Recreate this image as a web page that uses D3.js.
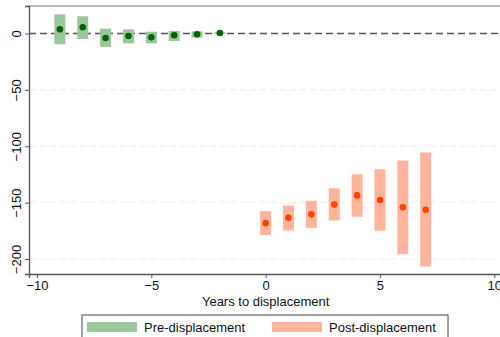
<!DOCTYPE html>
<html>
<head>
<meta charset="utf-8">
<script src="https://cdn.jsdelivr.net/npm/d3@7"></script>
<style>
  body { margin: 0; background: white; }
  text { font-family: "Liberation Sans", Arial, sans-serif; }
</style>
</head>
<body>
<script>
const width = 500;
const height = 337;

// event-study estimates
const pre_years = [-9, -8, -7, -6, -5, -4, -3, -2];
const pre_coef  = [3.7, 5.5, -4.0, -2.2, -3.4, -1.6, -0.7, 0.4];
const pre_lo    = [-9.6, -4.9, -12.0, -8.7, -8.7, -6.7, -3.7, -0.3];
const pre_hi    = [17.0, 15.3, 4.3, 3.7, 1.6, 2.2, 1.9, 1.1];

const post_years = [0, 1, 2, 3, 4, 5, 6, 7];
const post_coef  = [-168.2, -163.4, -160.4, -151.6, -143.6, -147.7, -154.2, -156.3];
const post_lo    = [-178.8, -174.7, -172.6, -165.8, -162.5, -174.9, -195.7, -206.7];
const post_hi    = [-157.5, -152.7, -148.3, -137.3, -124.9, -120.4, -112.7, -105.6];

const x_ticks = [-10, -5, 0, 5, 10];
const y_ticks = [0, -50, -100, -150, -200];
const legend_items = [
    {label: 'Pre-displacement', color: '#9cc79d'},
    {label: 'Post-displacement', color: '#ffb59b'}
];

const margin = {left: 29, top: 6, right: -8, bottom: 63};
const x = d3.scaleLinear().domain([-10.35, 10.6]).range([margin.left, width - margin.right]);
const y = d3.scaleLinear().domain([-213.3, 24.4]).range([height - margin.bottom, margin.top]);
const font_size = 13;

const svg = d3.select('body').append('svg')
    .attr('width', width)
    .attr('height', height);

svg.append('rect').attr('width', width).attr('height', height).attr('fill', 'white');

// grid lines
svg.append('g')
    .selectAll('line')
    .data(y_ticks.filter(t => t !== 0))
    .enter()
    .append('line')
    .attr('x1', margin.left + 1)
    .attr('x2', width)
    .attr('y1', d => y(d))
    .attr('y2', d => y(d))
    .attr('stroke', '#ececec')
    .attr('stroke-width', 1)
    .attr('stroke-dasharray', '6,4');

// top frame line
svg.append('line')
    .attr('x1', margin.left).attr('x2', width)
    .attr('y1', margin.top).attr('y2', margin.top)
    .attr('stroke', '#777').attr('stroke-width', 1);

// zero reference line
svg.append('line')
    .attr('x1', margin.left).attr('x2', width)
    .attr('y1', y(0)).attr('y2', y(0))
    .attr('stroke', '#555')
    .attr('stroke-width', 1.3)
    .attr('stroke-dasharray', '7,4');

const bar_w = 11;

function draw_series(years, coef, lo, hi, bar_color, dot_color) {
    const g = svg.append('g');
    g.selectAll('rect')
        .data(years)
        .enter()
        .append('rect')
        .attr('x', d => x(d) - bar_w / 2)
        .attr('y', (d, i) => y(hi[i]))
        .attr('width', bar_w)
        .attr('height', (d, i) => y(lo[i]) - y(hi[i]))
        .attr('fill', bar_color);
    g.selectAll('circle')
        .data(years)
        .enter()
        .append('circle')
        .attr('cx', d => x(d))
        .attr('cy', (d, i) => y(coef[i]))
        .attr('r', 3.3)
        .attr('fill', dot_color);
}

draw_series(pre_years, pre_coef, pre_lo, pre_hi, legend_items[0].color, '#006400');
draw_series(post_years, post_coef, post_lo, post_hi, legend_items[1].color, '#ff4500');

// axes
const x_axis = svg.append('g')
    .attr('transform', `translate(0, ${height - margin.bottom})`)
    .call(d3.axisBottom(x).tickValues(x_ticks).tickSize(4).tickPadding(3));
x_axis.select('.domain').attr('stroke', '#555').attr('stroke-width', 1.3);
x_axis.selectAll('.tick line').attr('stroke', '#555');
x_axis.selectAll('.tick text').attr('font-size', font_size).attr('fill', '#111');

const y_axis = svg.append('g')
    .attr('transform', `translate(${margin.left}, 0)`)
    .call(d3.axisLeft(y).tickValues(y_ticks).tickSize(4).tickPadding(3));
y_axis.select('.domain').attr('stroke', '#555').attr('stroke-width', 1.3);
y_axis.selectAll('.tick line').attr('stroke', '#555');
y_axis.selectAll('.tick text')
    .attr('font-size', font_size)
    .attr('fill', '#111')
    .attr('text-anchor', 'middle')
    .attr('dy', null)
    .attr('x', 0)
    .attr('transform', 'translate(-13, 0) rotate(-90)')
    .attr('dominant-baseline', 'central');

svg.append('text')
    .attr('x', x(0))
    .attr('y', 306)
    .attr('text-anchor', 'middle')
    .attr('font-size', font_size)
    .attr('fill', '#111')
    .text('Years to displacement');

// legend
const legend = svg.append('g');
legend.append('rect')
    .attr('x', 82).attr('y', 315)
    .attr('width', 366).attr('height', 30)
    .attr('fill', 'white')
    .attr('stroke', '#444')
    .attr('stroke-width', 1);
const legend_x = [87, 272];
legend.selectAll('.item')
    .data(legend_items)
    .enter()
    .append('g')
    .attr('transform', (d, i) => `translate(${legend_x[i]}, 322)`)
    .each(function (d) {
        const g = d3.select(this);
        g.append('rect').attr('width', 50).attr('height', 10).attr('fill', d.color);
        g.append('text')
            .attr('x', 57)
            .attr('y', 5)
            .attr('dominant-baseline', 'central')
            .attr('font-size', font_size)
            .attr('fill', '#111')
            .text(d.label);
    });
</script>
</body>
</html>
